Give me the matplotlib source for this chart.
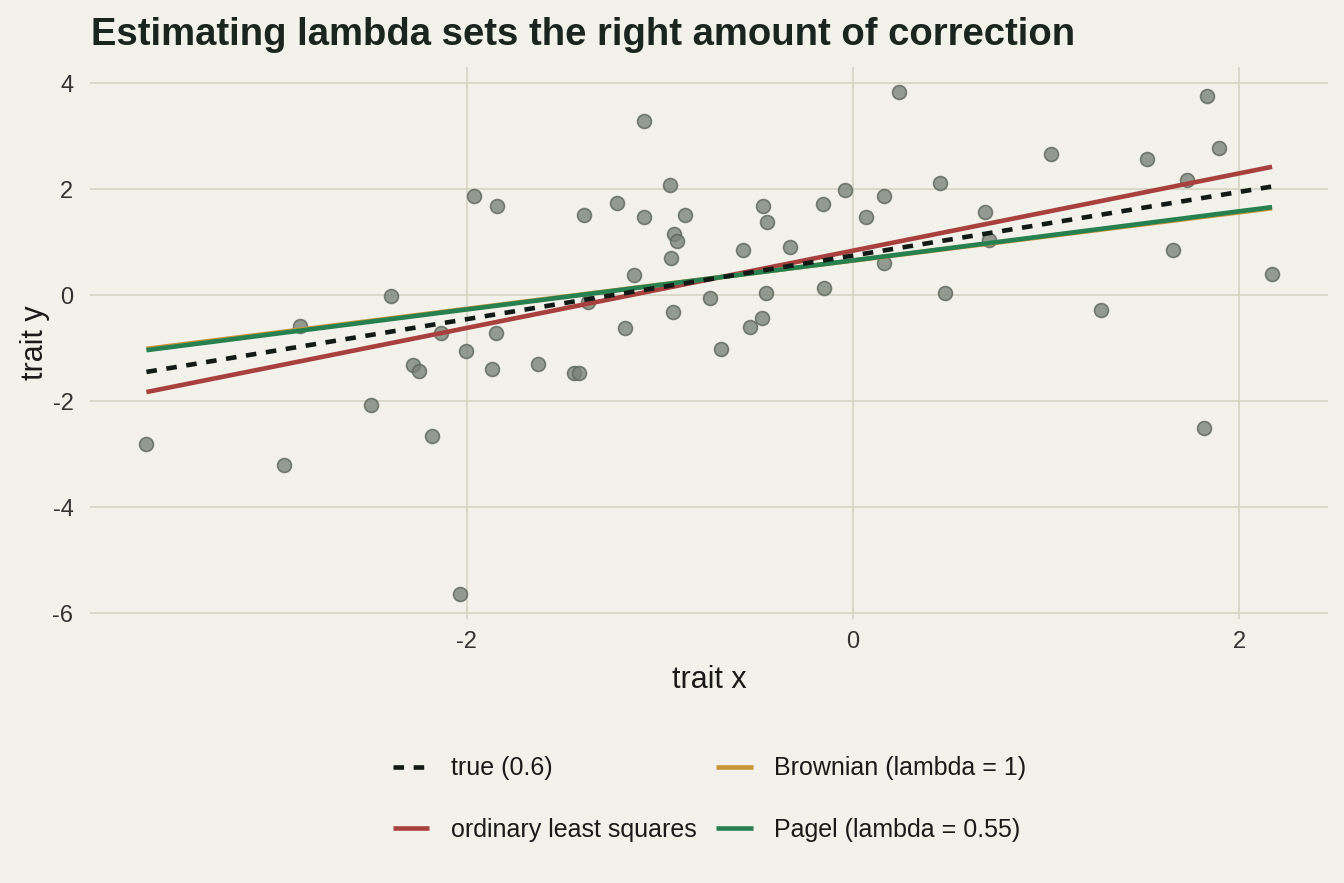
import numpy as np
import matplotlib
matplotlib.use("Agg")
import matplotlib.pyplot as plt

plt.rcParams['font.family'] = ['Liberation Sans', 'DejaVu Sans']
plt.rcParams['axes.unicode_minus'] = False

# simulated tip data
trait_x = [-3.658, -2.948, -2.865, -2.497, -2.389, -2.280, -2.244, -2.181, -2.135, -2.036,
           -2.005, -1.964, -1.870, -1.850, -1.845, -1.632, -1.446, -1.420, -1.394, -1.373,
           -1.223, -1.181, -1.135, -1.083, -1.083, -0.948, -0.943, -0.933, -0.927, -0.912,
           -0.870, -0.741, -0.684, -0.570, -0.534, -0.472, -0.466, -0.451, -0.446, -0.326,
           -0.155, -0.150, -0.041, 0.067, 0.161, 0.161, 0.238, 0.451, 0.477, 0.684,
           0.705, 1.026, 1.285, 1.523, 1.658, 1.731, 1.819, 1.834, 1.896, 2.171]
trait_y = [-2.81, -3.21, -0.585, -2.075, -0.02, -1.32, -1.43, -2.66, -0.72, -5.64,
           -1.057, 1.87, -1.40, -0.72, 1.68, -1.30, -1.47, -1.47, 1.51, -0.13,
           1.74, -0.62, 0.38, 3.28, 1.47, 2.08, 0.70, -0.32, 1.15, 1.02,
           1.51, -0.057, -1.02, 0.85, -0.60, -0.43, 1.68, 0.04, 1.38, 0.91,
           1.72, 0.13, 1.98, 1.47, 1.87, 0.60, 3.83, 2.11, 0.04, 1.57,
           1.04, 2.66, -0.28, 2.57, 0.85, 2.17, -2.51, 3.75, 2.77, 0.40]

# fitted lines: label, intercept, slope
fit_labels = ["true (0.6)", "ordinary least squares", "Brownian (lambda = 1)", "Pagel (lambda = 0.55)"]
fit_intercepts = [0.745, 0.837, 0.650, 0.654]
fit_slopes = [0.60, 0.729, 0.455, 0.463]
fit_colors = ["#111a16", "#a8403e", "#c8963a", "#27804f"]
fit_styles = [(0, (2.3, 2.1)), "-", "-", "-"]

bg = "#f2f1ea"
grid_col = "#d8d7c6"

fig = plt.figure(figsize=(13.44, 8.83), dpi=100, facecolor=bg)
ax = fig.add_axes([0.067, 0.299, 0.921, 0.625], facecolor=bg)

ax.scatter(trait_x, trait_y, s=100, color="#7b8479", alpha=0.8,
           edgecolors="#5d665c", linewidths=1.2, zorder=3)

xs = np.array([min(trait_x), max(trait_x)])
zorders = [5, 4, 4, 4.5]
handles = []
for i in range(len(fit_labels)):
    h, = ax.plot(xs, fit_intercepts[i] + fit_slopes[i] * xs, color=fit_colors[i],
                 linestyle=fit_styles[i], lw=3.3, zorder=zorders[i], label=fit_labels[i],
                 solid_capstyle="butt", dash_capstyle="butt")
    handles.append(h)

ax.set_xlim(-3.95, 2.46)
ax.set_ylim(-6.11, 4.30)
ax.set_xticks([-2, 0, 2])
ax.set_yticks([-6, -4, -2, 0, 2, 4])
ax.grid(True, color=grid_col, lw=1.3)
ax.set_axisbelow(True)
for s in ax.spines.values():
    s.set_visible(False)
ax.tick_params(length=0, labelsize=17, colors="#333333")
ax.tick_params(axis="y", pad=12)
ax.tick_params(axis="x", pad=9)

ax.set_xlabel("trait x", fontsize=22, color="#1a1a1a", labelpad=8)
ax.set_ylabel("trait y", fontsize=22, color="#1a1a1a", labelpad=2)

fig.text(0.068, 0.96, "Estimating lambda sets the right amount of correction",
         fontsize=27.5, fontweight="bold", color="#1b2520", va="center", ha="left")

leg = fig.legend(handles=handles, labels=fit_labels, loc="center",
                 bbox_to_anchor=(0.528, 0.095), ncol=2, frameon=False,
                 fontsize=18, handlelength=1.45, handletextpad=0.85,
                 labelspacing=1.5, columnspacing=0.8)
for t in leg.get_texts():
    t.set_color("#1a1a1a")

fig.savefig("out.png", dpi=100, facecolor=bg)
